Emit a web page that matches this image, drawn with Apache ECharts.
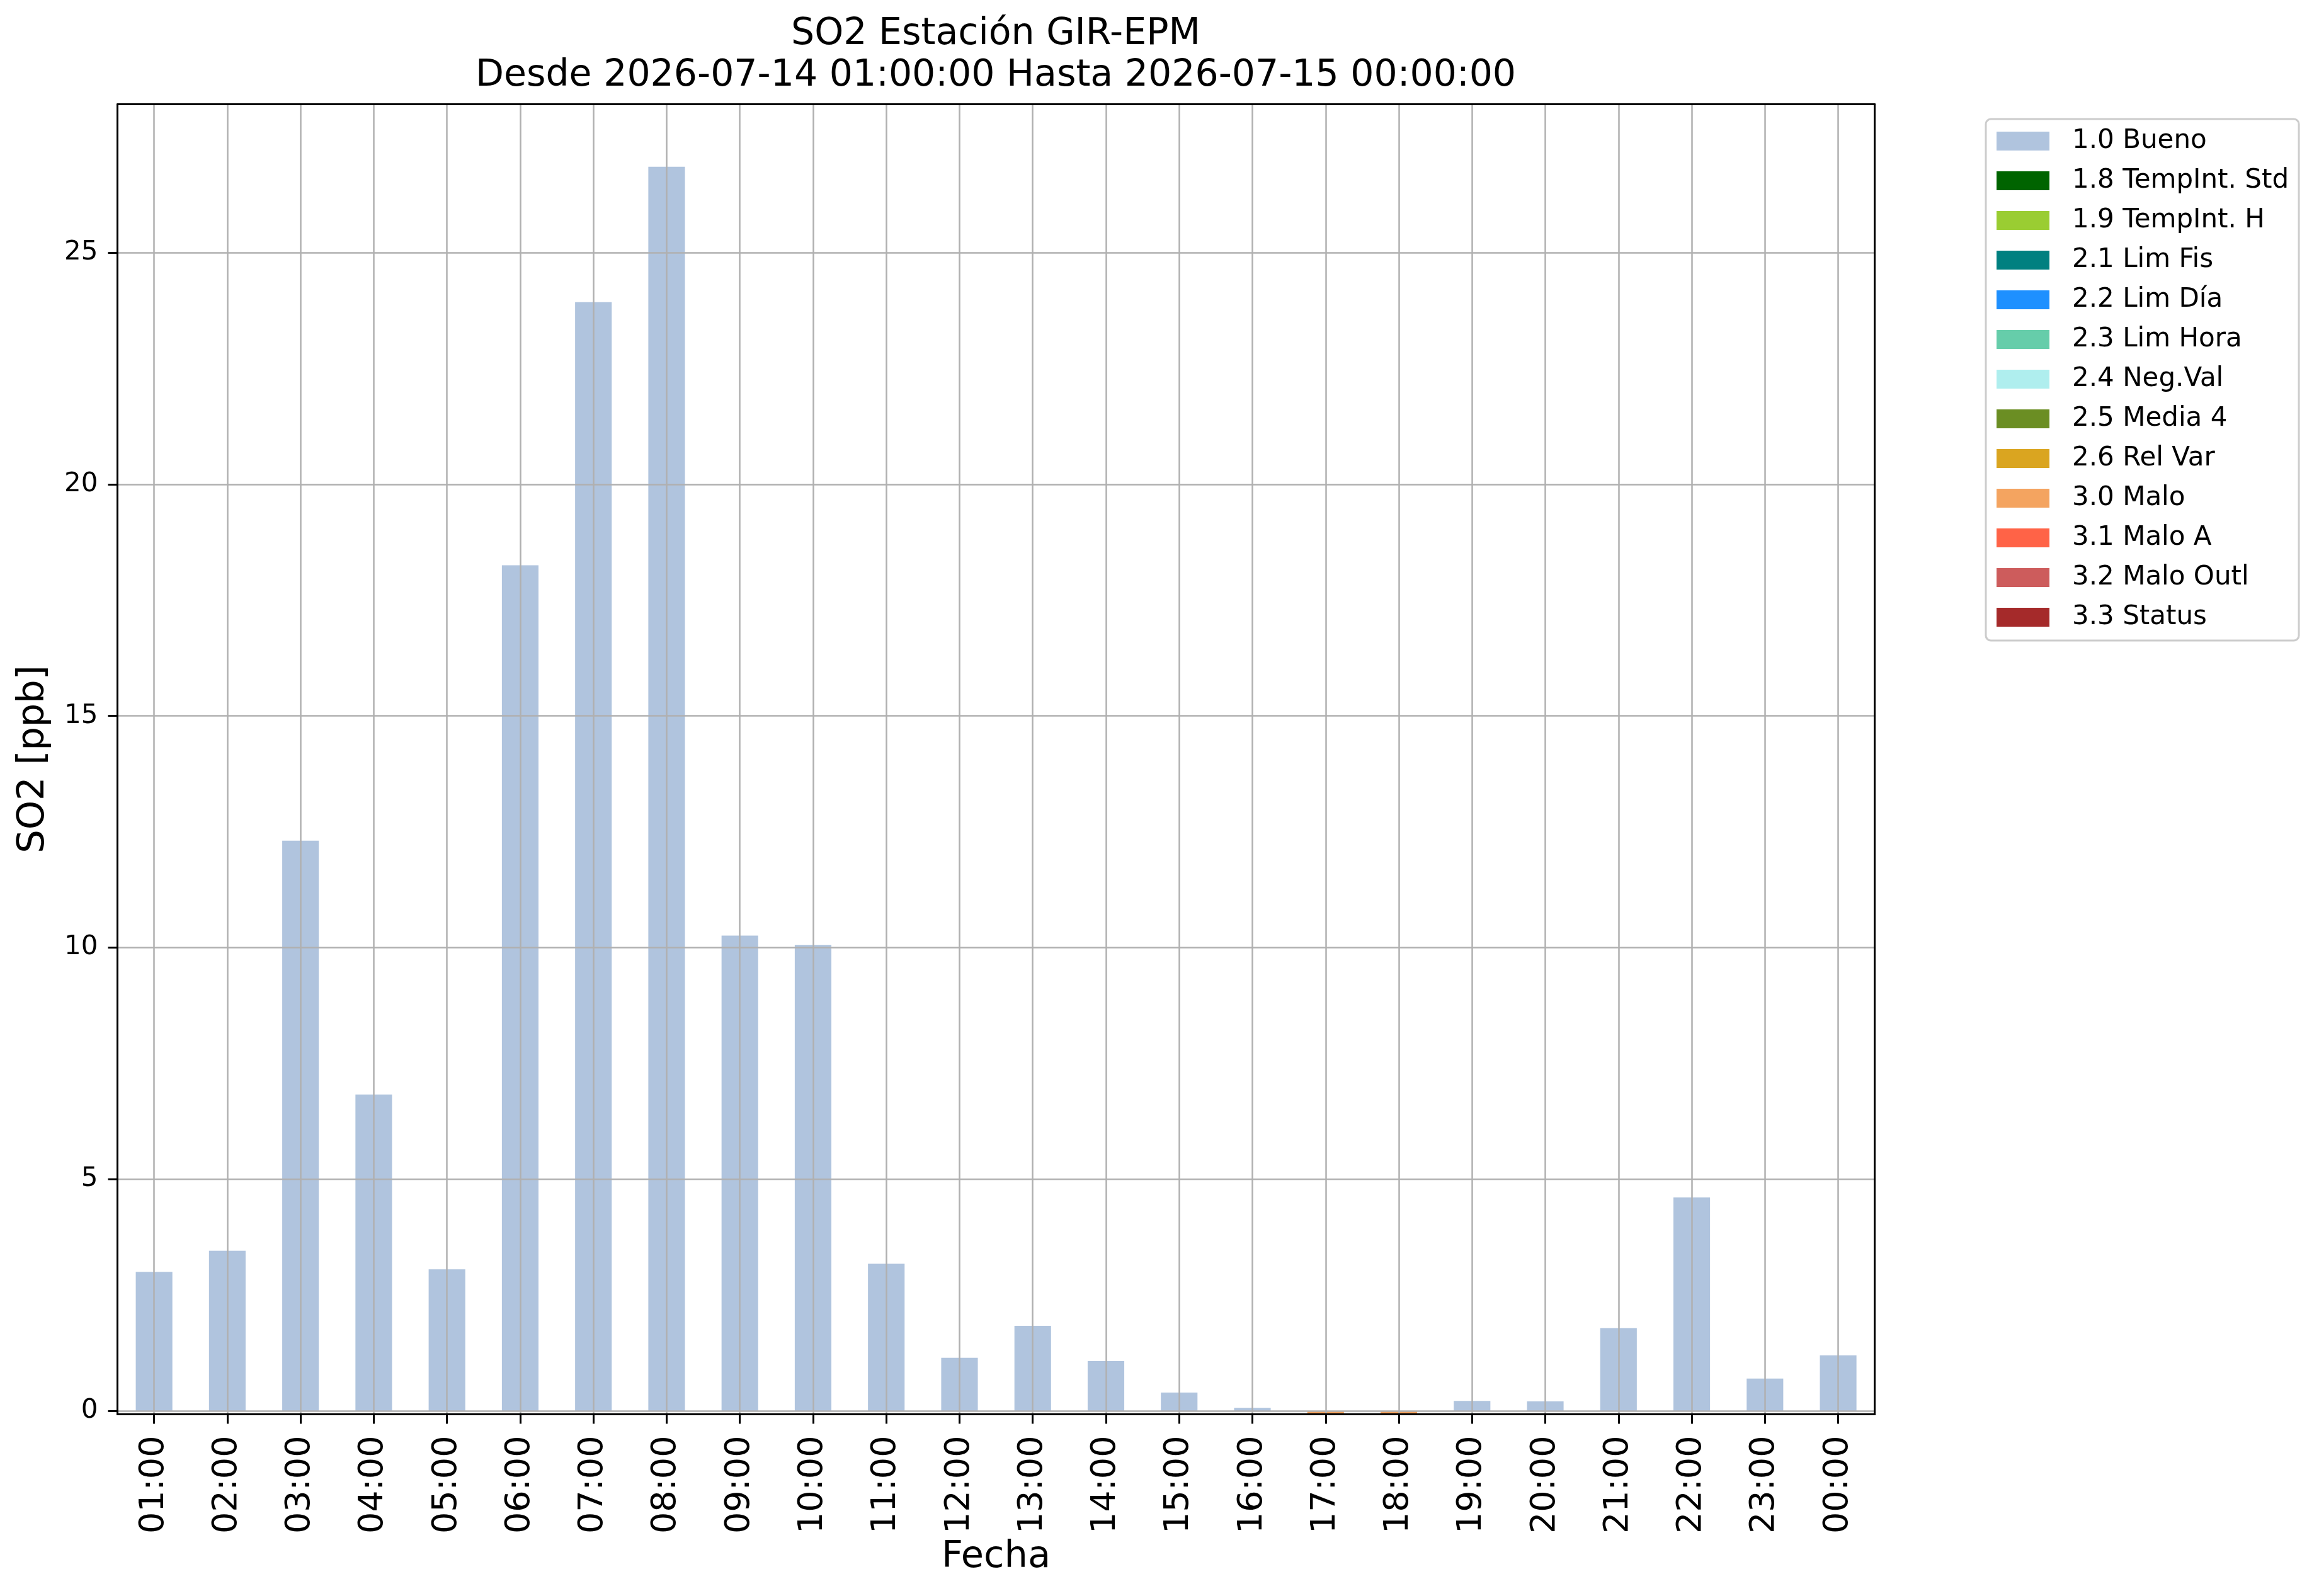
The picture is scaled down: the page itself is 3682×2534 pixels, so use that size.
<!DOCTYPE html>
<html>
<head>
<meta charset="utf-8">
<script src="https://cdn.jsdelivr.net/npm/echarts@6/dist/echarts.min.js"></script>
<style>
  html, body { margin: 0; padding: 0; background: #ffffff; }
  #chart { width: 3682px; height: 2534px; }
</style>
</head>
<body>
<div id="chart"></div>
<script>
// ---- data ----
const hours = ['01:00','02:00','03:00','04:00','05:00','06:00','07:00','08:00','09:00','10:00','11:00','12:00',
               '13:00','14:00','15:00','16:00','17:00','18:00','19:00','20:00','21:00','22:00','23:00','00:00'];

const flagNames = ['1.0 Bueno','1.8 TempInt. Std','1.9 TempInt. H','2.1 Lim Fis','2.2 Lim Día','2.3 Lim Hora',
                   '2.4 Neg.Val','2.5 Media 4','2.6 Rel Var','3.0 Malo','3.1 Malo A','3.2 Malo Outl','3.3 Status'];
const flagColors = ['#b0c4de','#006400','#9acd32','#008080','#1e90ff','#66cdaa',
                    '#afeeee','#6b8e23','#daa520','#f4a460','#ff6347','#cd5c5c','#a52a2a'];

const bueno = [3.00, 3.46, 12.31, 6.83, 3.06, 18.25, 23.93, 26.85, 10.26, 10.06, 3.18, 1.15,
               1.84, 1.08, 0.40, 0.07, null, null, 0.22, 0.21, 1.79, 4.61, 0.70, 1.20];
const malo  = [null, null, null, null, null, null, null, null, null, null, null, null,
               null, null, null, null, -0.05, -0.05, null, null, null, null, null, null];
const empty = [null, null, null, null, null, null, null, null, null, null, null, null,
               null, null, null, null, null, null, null, null, null, null, null, null];

const seriesValues = {
  '1.0 Bueno': bueno,
  '3.0 Malo': malo
};

const yTicks = [0, 5, 10, 15, 20, 25];
const yMin = -0.07;
const yMax = 28.2;

const titleText = 'SO2 Estación GIR-EPM\nDesde 2026-07-14 01:00:00 Hasta 2026-07-15 00:00:00';

// ---- chart ----
const FONT = 'DejaVu Sans';
const chart = echarts.init(document.getElementById('chart'), null, { renderer: 'canvas' });

const centerTicks = hours.map((_, i) => i + 0.5);

const series = flagNames.map((name, i) => ({
  name: name,
  type: 'bar',
  stack: 'total',
  barWidth: '50%',
  data: seriesValues[name] || empty,
  itemStyle: { color: flagColors[i] },
  emphasis: { disabled: true },
  z: 2
}));

const option = {
  animation: false,
  backgroundColor: '#ffffff',
  textStyle: { fontFamily: FONT, color: '#000' },
  title: {
    text: titleText,
    left: 1581,
    top: 22,
    padding: 0,
    textAlign: 'center',
    textStyle: { fontFamily: FONT, fontSize: 58.5, fontWeight: 'normal', color: '#000', lineHeight: 66 }
  },
  legend: {
    orient: 'vertical',
    left: 3153,
    top: 189,
    data: flagNames,
    selectedMode: false,
    icon: 'rect',
    itemWidth: 84,
    itemHeight: 30,
    itemGap: 21,
    backgroundColor: '#ffffff',
    borderColor: '#cccccc',
    borderWidth: 3,
    borderRadius: 8,
    padding: [14, 16, 16, 17],
    textStyle: { fontFamily: FONT, fontSize: 42, color: '#000', lineHeight: 42, padding: [0, 0, 0, 31] }
  },
  grid: { left: 186.5, right: 705.3, top: 165.5, bottom: 288.5, containLabel: false },
  xAxis: [
    {
      type: 'category',
      data: hours,
      boundaryGap: true,
      position: 'bottom',
      name: 'Fecha',
      nameLocation: 'middle',
      nameGap: 196,
      nameTextStyle: { fontFamily: FONT, fontSize: 59, color: '#000' },
      axisLine: { show: true, onZero: false, lineStyle: { color: '#000', width: 3 } },
      axisTick: { show: true, alignWithLabel: true, inside: false, length: 15, lineStyle: { color: '#000', width: 3 } },
      axisLabel: { rotate: 90, fontFamily: FONT, fontSize: 54, color: '#000', margin: 34, interval: 0 },
      splitLine: { show: false },
      z: 4
    },
    {
      type: 'value',
      position: 'top',
      min: 0,
      max: hours.length,
      axisLine: { show: true, onZero: false, lineStyle: { color: '#000', width: 3 } },
      axisTick: { show: false, customValues: centerTicks },
      axisLabel: { show: false, customValues: centerTicks },
      splitLine: { show: true, lineStyle: { color: '#b0b0b0', width: 2.5 } },
      z: 3
    }
  ],
  yAxis: [
    {
      type: 'value',
      min: yMin,
      max: yMax,
      position: 'left',
      name: 'SO2 [ppb]',
      nameLocation: 'middle',
      nameGap: 103,
      nameTextStyle: { fontFamily: FONT, fontSize: 59, color: '#000' },
      axisLine: { show: true, onZero: false, lineStyle: { color: '#000', width: 3 } },
      axisTick: { show: true, inside: false, length: 15, lineStyle: { color: '#000', width: 3 }, customValues: yTicks },
      axisLabel: { fontFamily: FONT, fontSize: 42, color: '#000', margin: 31, customValues: yTicks },
      splitLine: { show: true, lineStyle: { color: '#b0b0b0', width: 2.5 } },
      z: 3
    },
    {
      type: 'value',
      position: 'right',
      min: 0,
      max: 1,
      axisLine: { show: true, onZero: false, lineStyle: { color: '#000', width: 3 } },
      axisTick: { show: false },
      axisLabel: { show: false },
      splitLine: { show: false },
      z: 4
    }
  ],
  series: series
};

chart.setOption(option);
</script>
</body>
</html>
